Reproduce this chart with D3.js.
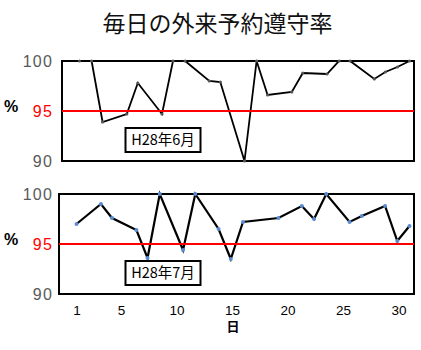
<!DOCTYPE html>
<html>
<head>
<meta charset="utf-8">
<script src="https://cdn.jsdelivr.net/npm/d3@7"></script>
<style>
  body { margin: 0; background: #fff; }
  svg { display: block; }
</style>
</head>
<body>
<div id="chart"></div>
<script>
// Data (x = day position on the axis, y = rate in %)
let title = "毎日の外来予約遵守率";
let junDays = [1, 2.1, 3.1, 5.3, 6.3, 8.5, 9.5, 10.6, 12.8, 13.8, 16, 17.1, 18.1, 20.3, 21.3, 23.5, 24.6, 25.6, 27.8, 28.8, 29.9, 31];
let junRates = [100, 100, 93.9, 94.7, 97.8, 94.7, 100, 100, 98.0, 97.9, 90.0, 100, 96.6, 96.9, 98.8, 98.7, 100, 100, 98.2, 98.9, 99.4, 100];
let julDays = [1, 3.2, 4.2, 6.4, 7.4, 8.5, 10.6, 11.7, 13.8, 14.9, 16, 19.2, 21.3, 22.4, 23.5, 25.6, 26.7, 28.8, 29.9, 31];
let julRates = [97.0, 99.0, 97.6, 96.4, 93.6, 100, 94.4, 100, 96.5, 93.5, 97.2, 97.6, 98.8, 97.5, 100, 97.2, 97.8, 98.8, 95.3, 96.8];
let yTicks = [90, 95, 100];
let xTicks = [1, 5, 10, 15, 20, 25, 30];
let target = 95;
let xLabel = "日";
let yLabel = "%";

let width = 421;
let height = 350;

let svg = d3.select("#chart")
    .append("svg")
    .attr("width", width)
    .attr("height", height);

// Title
svg.append("text")
    .attr("x", 217.5)
    .attr("y", 31.5)
    .attr("text-anchor", "middle")
    .style("font-family", "'Noto Sans CJK JP'")
    .style("font-size", "23px")
    .attr("fill", "#111")
    .text(title);

function drawPanel(opts) {
    let { left, right, top, bottom, days, rates, label, lineWidth, dotColor, dotR, redWidth, showX } = opts;

    let xScale = d3.scaleLinear().domain([1, 31]).range([left + 17.5, right - 4.5]);
    let yScale = d3.scaleLinear().domain([90, 100]).range([bottom, top]);

    let g = svg.append("g");

    // Y labels
    let yAxis = g.append("g")
        .attr("transform", "translate(" + left + ",0)")
        .call(d3.axisLeft(yScale).tickValues(yTicks).tickSize(0).tickPadding(left - 53));
    yAxis.select(".domain").remove();
    yAxis.selectAll("text")
        .style("font-family", "'Liberation Sans'")
        .style("font-size", "16px")
        .style("letter-spacing", "1.2px")
        .attr("fill", d => d === target ? "#ff0000" : "#595959");

    g.append("text")
        .attr("x", 4)
        .attr("y", (top + bottom) / 2 - 5)
        .attr("dy", "0.35em")
        .style("font-family", "'Liberation Sans'")
        .style("font-size", "16px")
        .style("font-weight", "bold")
        .attr("fill", "#000")
        .text(yLabel);

    // Frame
    g.append("rect")
        .attr("x", left)
        .attr("y", top)
        .attr("width", right - left)
        .attr("height", bottom - top)
        .attr("fill", "none")
        .attr("stroke", "#000")
        .attr("stroke-width", 2);

    // Data line
    let points = days.map((d, i) => [d, rates[i]]);
    let line = d3.line()
        .x(p => xScale(p[0]))
        .y(p => yScale(p[1]));

    g.append("path")
        .datum(points)
        .attr("d", line)
        .attr("fill", "none")
        .attr("stroke", "#000")
        .attr("stroke-width", lineWidth)
        .attr("stroke-linejoin", "miter");

    g.selectAll(".dot")
        .data(points)
        .enter()
        .append("circle")
        .attr("cx", p => xScale(p[0]))
        .attr("cy", p => yScale(p[1]))
        .attr("r", dotR)
        .attr("fill", dotColor);

    // Target line
    g.append("line")
        .attr("x1", left)
        .attr("x2", right)
        .attr("y1", yScale(target))
        .attr("y2", yScale(target))
        .attr("stroke", "#ff0000")
        .attr("stroke-width", redWidth);

    // Month label box
    g.append("rect")
        .attr("x", 125.5)
        .attr("y", yScale(93.3))
        .attr("width", 75)
        .attr("height", 24)
        .attr("fill", "#fff")
        .attr("stroke", "#000")
        .attr("stroke-width", 2);
    g.append("text")
        .attr("x", 163)
        .attr("y", yScale(93.3) + 12)
        .attr("dy", "0.36em")
        .attr("text-anchor", "middle")
        .style("font-family", "'Noto Sans CJK JP'")
        .style("font-size", "14.5px")
        .attr("fill", "#000")
        .text(label);

    if (showX) {
        let xAxis = g.append("g")
            .attr("transform", "translate(0," + bottom + ")")
            .call(d3.axisBottom(xScale).tickValues(xTicks).tickSize(0).tickPadding(11));
        xAxis.select(".domain").remove();
        xAxis.selectAll("text")
            .style("font-family", "'Liberation Sans'")
            .style("font-size", "13.5px")
            .attr("fill", "#000");

        g.append("text")
            .attr("x", 233)
            .attr("y", 331)
            .attr("text-anchor", "middle")
            .style("font-family", "'Noto Sans CJK JP'")
            .style("font-size", "13px")
            .style("font-weight", "bold")
            .attr("fill", "#000")
            .text(xLabel);
    }
}

drawPanel({
    left: 62, right: 414, top: 61, bottom: 161,
    days: junDays, rates: junRates, label: "H28年6月",
    lineWidth: 1.8, dotColor: "#555", dotR: 1.6, redWidth: 2.2, showX: false
});

drawPanel({
    left: 59, right: 414, top: 194, bottom: 294,
    days: julDays, rates: julRates, label: "H28年7月",
    lineWidth: 2.2, dotColor: "#5b8cd2", dotR: 2, redWidth: 1.8, showX: true
});
</script>
</body>
</html>
